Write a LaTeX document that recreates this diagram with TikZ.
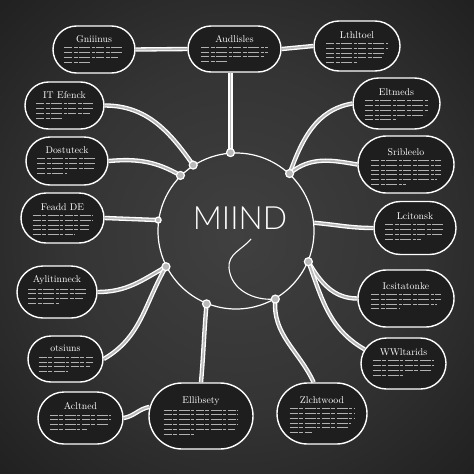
\documentclass[tikz,border=0pt]{standalone}
\usepackage{fontspec}
\usetikzlibrary{shapes.misc}
\newfontfamily\mindfont{Lato Light}
\definecolor{bgin}{RGB}{64,64,64}
\definecolor{bgout}{RGB}{16,16,16}
\definecolor{bubblefill}{RGB}{30,30,30}
\pgfdeclareradialshading{board}{\pgfpoint{0bp}{0bp}}{color(0bp)=(bgin); color(18bp)=(bgin!75!bgout); color(50bp)=(bgout)}
\tikzstyle{bubble} = [rounded rectangle, draw=white!85, line width=1.4pt, fill=bubblefill, inner sep=0pt]
\tikzstyle{ttl} = [text=white!92, font=\fontsize{9.8}{10}\selectfont, inner sep=0pt]
\tikzstyle{scrib} = [draw=gray!62, line width=0.65pt, dash pattern=on 8pt off 1.5pt on 4pt off 1.5pt on 11pt off 1.5pt on 3pt off 1.5pt]
\tikzstyle{tube} = [draw=white!90, line width=1.3pt, double=gray!55, double distance=1.8pt]
\tikzstyle{knob} = [circle, draw=white!90, fill=gray!55, line width=1.2pt, minimum size=8pt, inner sep=0pt]
\newcommand{\thought}[7]{%
  \node [bubble, minimum width=#4pt, minimum height=#5pt] (#1) at (#2,#3) {};
  \node [ttl] (#1-t) at ([yshift={-0.29*#5pt}]#1.north) {#6};
  \foreach \f [count=\k] in {#7}
    \draw [scrib] ([xshift={-0.36*#4pt}, yshift={-(0.29*#5+8.5+4.8*(\k-1))*1pt}]#1.north) -- ++({\f*0.72*#4},0);
}

\begin{document}
\begin{tikzpicture}[x=1pt, y=1pt]
  \useasboundingbox (0,0) rectangle (474,-474);
  \shade [shading=board] (0,0) rectangle (474,-474);
  % centre
  \node [circle, draw=white!85, line width=1.2pt, minimum size=156pt, inner sep=0pt] (mind) at (236,-231) {};
  \node [text=white!92, font=\mindfont\fontsize{32}{32}\selectfont] (mind-t) at (240,-218) {MIIND};
  % bubbles
  \thought{gni}{94}{-49.5}{82}{47}{Gniiinus}{1,1,.9,.45}
  \thought{aud}{234.5}{-49}{93}{46}{Audlisles}{1,1,.95,.4}
  \thought{lth}{357}{-46}{86}{50}{Lthltoel}{1,1,.95,.9,.5}
  \thought{ite}{64.5}{-105.5}{79}{47}{IT Efenck}{1,1,.95,.45}
  \thought{elm}{396.5}{-103.5}{87}{51}{Eltmeds}{1,1,1,.95,.5}
  \thought{dos}{67}{-161}{82}{48}{Dostuteck}{1,1,.95,.5}
  \thought{sri}{406}{-164.5}{96}{57}{Sribleelo}{1,1,1,1,.95,.5}
  \thought{fea}{62.5}{-218}{83}{50}{Feadd DE}{1,1,.95,.95,.7}
  \thought{sci}{415}{-228}{82}{53}{Lcitonsk}{1,1,.95,.6}
  \thought{ayl}{57}{-292}{80}{52}{Aylitinneck}{1,1,.95,.55}
  \thought{ics}{406}{-298.5}{96}{57}{Icsitatonke}{1,1,.95,.4}
  \thought{ots}{65.5}{-359}{75}{46}{otsiuns}{1,1,.95,.55}
  \thought{wwl}{403.5}{-363.5}{85}{51}{WWltarids}{1,1,.95,.5}
  \thought{acl}{80.5}{-418}{85}{52}{Acltned}{1,1,.95,.6}
  \thought{ell}{201}{-416}{104}{66}{Ellibsety}{1,1,1,1,.95,.4}
  \thought{zlc}{322}{-413.5}{90}{61}{Zlchtwood}{1,1,1,.95,.9,.35}
  % anchor points on the circle
  \coordinate (kt) at (mind.94);
  \coordinate (kul1) at (mind.123);
  \coordinate (kul2) at (mind.135);
  \coordinate (kl) at (mind.172);
  \coordinate (kur) at (mind.47);
  \coordinate (kr) at (mind.6);
  \coordinate (kll) at (mind.207);
  \coordinate (kb) at (mind.248);
  \coordinate (kbr1) at (mind.300);
  \coordinate (kbr2) at (mind.337);
  % the curl
  \coordinate (curl) at (251,-239);
  \draw [white!85, line width=1.1pt] (curl) to[out=230, in=95] (229,-268) to[out=-85, in=185] (kbr1);
  % tubes
  \draw [tube] (gni.east) -- (aud.west);
  \draw [tube] (aud.east) -- (lth.west);
  \draw [tube] (aud.south -| kt) -- (kt);
  \draw [tube] (ite.east) to[out=0, in=125] (kul1);
  \draw [tube] (dos.east) to[out=5, in=150] (kul2);
  \draw [tube] (fea.east) -- (kl);
  \draw [tube] (kur) to[out=70, in=190] (elm.west);
  \draw [tube] (kur) to[out=40, in=170] (sri.west);
  \draw [tube] (kr) to[out=-5, in=180] (sci.west);
  \draw [tube] (ayl.east) to[out=0, in=210] (kll);
  \draw [tube] (ots.east) to[out=30, in=240] (kll);
  \draw [tube] (kb) to[out=265, in=85] (ell.north);
  \draw [tube] (acl.east) to[out=10, in=190] (ell.170);
  \draw [tube] (kbr2) to[out=-60, in=180] (ics.west);
  \draw [tube] (kbr2) to[out=-70, in=150] (wwl.160);
  \draw [tube] (kbr1) to[out=-95, in=115] (zlc.105);
  % knobs
  \node [knob] (kt-k) at (kt) {};
  \node [knob] (kul1-k) at (kul1) {};
  \node [knob] (kul2-k) at (kul2) {};
  \node [knob, minimum size=6pt] (kl-k) at (kl) {};
  \node [knob] (kur-k) at (kur) {};
  \node [knob] (kll-k) at (kll) {};
  \node [knob] (kb-k) at (kb) {};
  \node [knob] (kbr1-k) at (kbr1) {};
  \node [knob] (kbr2-k) at (kbr2) {};
\end{tikzpicture}
\end{document}
